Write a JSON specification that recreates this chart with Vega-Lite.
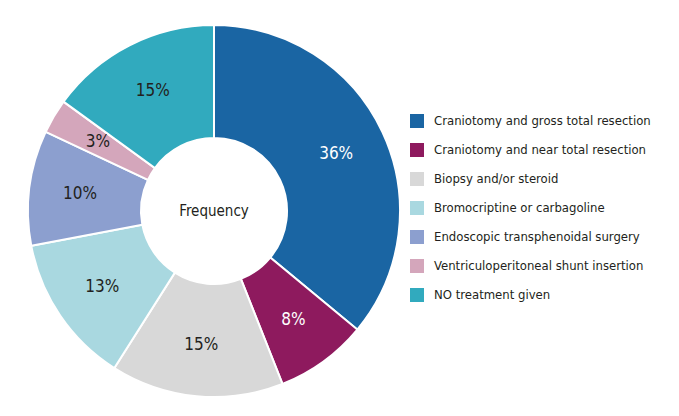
{
  "$schema": "https://vega.github.io/schema/vega-lite/v6.json",
  "width": 428,
  "height": 422,
  "padding": {"left": 0, "top": 0, "right": 251, "bottom": 0},
  "autosize": {"type": "none"},
  "background": "white",
  "config": {"view": {"stroke": null}, "font": "DejaVu Sans Condensed, Roboto, sans-serif"},
  "layer": [
    {
      "data": {"values": [
        {"idx": 1, "treatment": "Craniotomy and gross total resection", "share": 0.36},
        {"idx": 2, "treatment": "Craniotomy and near total resection", "share": 0.08},
        {"idx": 3, "treatment": "Biopsy and/or steroid", "share": 0.15},
        {"idx": 4, "treatment": "Bromocriptine or carbagoline", "share": 0.13},
        {"idx": 5, "treatment": "Endoscopic transphenoidal surgery", "share": 0.10},
        {"idx": 6, "treatment": "Ventriculoperitoneal shunt insertion", "share": 0.03},
        {"idx": 7, "treatment": "NO treatment given", "share": 0.15}
      ]},
      "encoding": {
        "theta": {"field": "share", "type": "quantitative", "stack": true},
        "order": {"field": "idx", "type": "quantitative"}
      },
      "layer": [
        {
          "mark": {"type": "arc", "outerRadius": 186, "innerRadius": 73, "stroke": "white", "strokeWidth": 2},
          "encoding": {
            "color": {
              "field": "treatment", "type": "nominal",
              "scale": {
                "domain": ["Craniotomy and gross total resection", "Craniotomy and near total resection", "Biopsy and/or steroid", "Bromocriptine or carbagoline", "Endoscopic transphenoidal surgery", "Ventriculoperitoneal shunt insertion", "NO treatment given"],
                "range": ["#1a65a3", "#8e1a5e", "#d8d8d8", "#a9d8e0", "#8c9fcf", "#d4a6bb", "#31aabe"]
              },
              "legend": {
                "title": null,
                "orient": "none",
                "legendX": 410,
                "legendY": 114,
                "symbolType": "square",
                "symbolSize": 196,
                "symbolStrokeWidth": 0,
                "labelFontSize": 13,
                "labelColor": "#231f20",
                "labelFont": "DejaVu Sans Condensed, Roboto, sans-serif",
                "labelOffset": 10,
                "labelLimit": 300,
                "rowPadding": 15,
                "padding": 0
              }
            }
          }
        },
        {
          "mark": {"type": "text", "radius": 135, "fontSize": 17, "font": "DejaVu Sans Condensed, Roboto, sans-serif"},
          "encoding": {
            "text": {"field": "share", "type": "quantitative", "format": ".0%"},
            "color": {"condition": {"test": "datum.idx <= 2", "value": "white"}, "value": "#231f20"}
          }
        }
      ]
    },
    {
      "data": {"values": [{"label": "Frequency"}]},
      "mark": {"type": "text", "fontSize": 15, "font": "DejaVu Sans Condensed, Roboto, sans-serif", "color": "#231f20"},
      "encoding": {"text": {"field": "label", "type": "nominal"}}
    }
  ]
}
